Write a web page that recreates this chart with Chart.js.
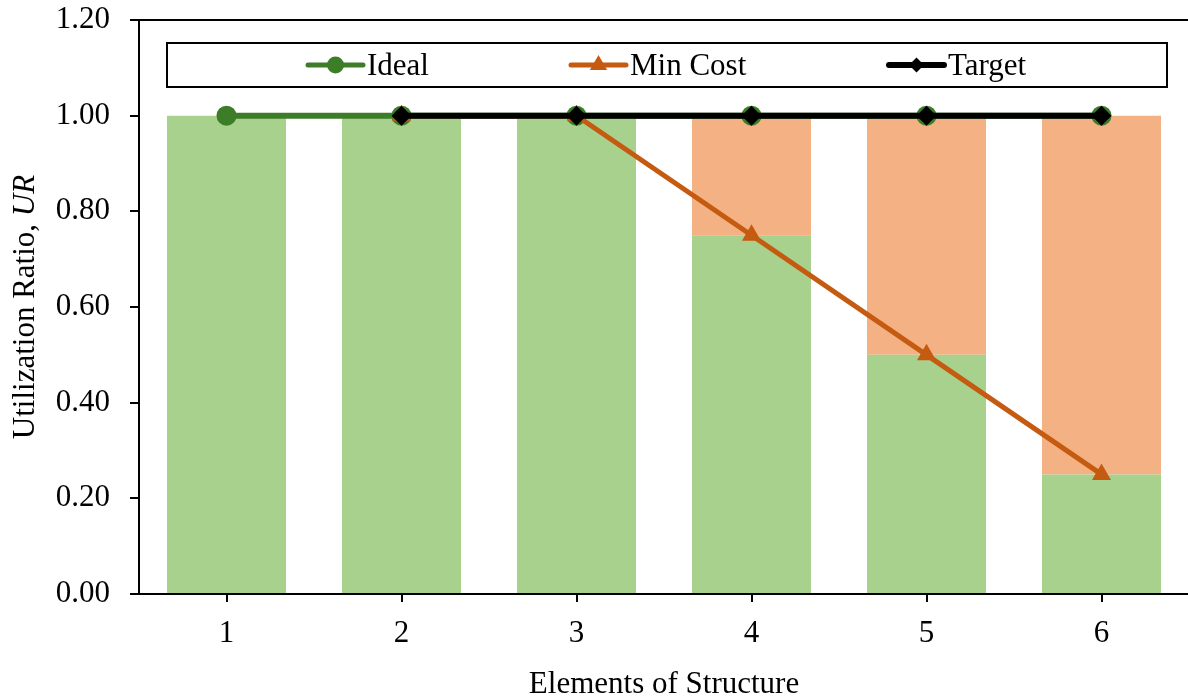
<!DOCTYPE html>
<html>
<head>
<meta charset="utf-8">
<script src="https://cdn.jsdelivr.net/npm/chart.js@4.4.1/dist/chart.umd.min.js"></script>
<style>
  html, body { margin: 0; padding: 0; background: #fff; overflow: hidden; }
  #wrap { width: 1200px; height: 697px; }
</style>
</head>
<body>
<div id="wrap"><canvas id="c" width="1200" height="697"></canvas></div>
<script>
// Elements along the x axis
const elements = ['1', '2', '3', '4', '5', '6'];
// Stacked columns: utilized share (green) and remaining capacity (orange)
const usedShare   = [1.00, 1.00, 1.00, 0.75, 0.50, 0.25];
const unusedShare = [0.00, 0.00, 0.00, 0.25, 0.50, 0.75];
// Line series
const idealUR   = [1.00, 1.00, 1.00, 1.00, 1.00, 1.00];
const minCostUR = [null, 1.00, 1.00, 0.75, 0.50, 0.25];
const targetUR  = [null, 1.00, 1.00, 1.00, 1.00, 1.00];
// Value axis
const yMin = 0, yMax = 1.2, yStep = 0.2;
const legendNames = ['Ideal', 'Min Cost', 'Target'];

const FONT = '"Liberation Serif", "Times New Roman", serif';
const GREEN = '#3D7D28', ORANGE = '#C55A11', BLACK = '#000000';

function marker(ctx, style, x, y, r, color) {
  ctx.save();
  ctx.fillStyle = color;
  ctx.beginPath();
  if (style === 'circle') {
    ctx.arc(x, y, r, 0, Math.PI * 2);
  } else if (style === 'triangle') {
    ctx.moveTo(x, y - r);
    ctx.lineTo(x + r * Math.sin(2 * Math.PI / 3), y - r * Math.cos(2 * Math.PI / 3));
    ctx.lineTo(x + r * Math.sin(4 * Math.PI / 3), y - r * Math.cos(4 * Math.PI / 3));
  } else {
    ctx.moveTo(x, y - r); ctx.lineTo(x + r, y); ctx.lineTo(x, y + r); ctx.lineTo(x - r, y);
  }
  ctx.closePath();
  ctx.fill();
  ctx.restore();
}

// Boxed legend inside the plot, plus the two axis titles
const decorations = {
  id: 'decorations',
  afterDraw(chart) {
    const ctx = chart.ctx;
    const area = chart.chartArea;
    ctx.save();
    // legend box
    ctx.fillStyle = '#fff';
    ctx.fillRect(167, 43, 1000, 44);
    ctx.strokeStyle = BLACK;
    ctx.lineWidth = 2;
    ctx.strokeRect(167, 43, 1000, 44);

    const items = [
      { name: legendNames[0], color: GREEN,  style: 'circle',   r: 8.5, x0: 308, w: 5 },
      { name: legendNames[1], color: ORANGE, style: 'triangle', r: 10,  x0: 571, w: 5 },
      { name: legendNames[2], color: BLACK,  style: 'diamond',  r: 7.5, x0: 889, w: 6 }
    ];
    const ly = 65;
    ctx.font = '31px ' + FONT;
    ctx.textBaseline = 'alphabetic';
    ctx.textAlign = 'left';
    items.forEach(it => {
      ctx.strokeStyle = it.color;
      ctx.lineWidth = it.w;
      ctx.lineCap = 'round';
      ctx.beginPath();
      ctx.moveTo(it.x0, ly);
      ctx.lineTo(it.x0 + 55, ly);
      ctx.stroke();
      marker(ctx, it.style, it.x0 + 27.5, ly, it.r, it.color);
      ctx.fillStyle = BLACK;
      ctx.fillText(it.name, it.x0 + 59, 75);
    });

    // x axis title
    ctx.textAlign = 'center';
    ctx.fillText('Elements of Structure', (area.left + area.right) / 2, 693);

    // y axis title with italic symbol
    const cy = (area.top + area.bottom) / 2;
    ctx.translate(34, cy);
    ctx.rotate(-Math.PI / 2);
    const partA = 'Utilization Ratio, ';
    const partB = 'UR';
    ctx.font = '31px ' + FONT;
    const wA = ctx.measureText(partA).width;
    ctx.font = 'italic 31px ' + FONT;
    const wB = ctx.measureText(partB).width;
    const start = -(wA + wB) / 2;
    ctx.textAlign = 'left';
    ctx.font = '31px ' + FONT;
    ctx.fillText(partA, start, 0);
    ctx.font = 'italic 31px ' + FONT;
    ctx.fillText(partB, start + wA, 0);
    ctx.restore();
  }
};

new Chart(document.getElementById('c'), {
  data: {
    labels: elements,
    datasets: [
      { type: 'bar', label: 'used', data: usedShare, backgroundColor: '#A9D18E',
        stack: 'bars', order: 10, barPercentage: 0.68, categoryPercentage: 1.0 },
      { type: 'bar', label: 'unused', data: unusedShare, backgroundColor: '#F4B183',
        stack: 'bars', order: 10, barPercentage: 0.68, categoryPercentage: 1.0 },
      { type: 'line', label: legendNames[0], data: idealUR, stack: 'ideal', order: 3,
        borderColor: GREEN, backgroundColor: GREEN, borderWidth: 6,
        pointStyle: 'circle', pointRadius: 10, pointBorderWidth: 0, pointBackgroundColor: GREEN },
      { type: 'line', label: legendNames[1], data: minCostUR, stack: 'min', order: 2,
        borderColor: ORANGE, backgroundColor: ORANGE, borderWidth: 5,
        pointStyle: 'triangle', pointRadius: 11, pointBorderWidth: 0, pointBackgroundColor: ORANGE },
      { type: 'line', label: legendNames[2], data: targetUR, stack: 'target', order: 1,
        borderColor: BLACK, backgroundColor: BLACK, borderWidth: 6,
        pointStyle: 'rectRot', pointRadius: 10, pointBorderWidth: 0, pointBackgroundColor: BLACK }
    ]
  },
  options: {
    responsive: false,
    animation: false,
    events: [],
    layout: { padding: { left: 0, right: 4, top: 20, bottom: 0 } },
    plugins: { legend: { display: false }, tooltip: { enabled: false }, title: { display: false } },
    scales: {
      x: {
        type: 'category',
        stacked: true,
        offset: true,
        grid: { offset: false, drawOnChartArea: false, drawTicks: true, tickLength: 8,
                color: BLACK, tickColor: BLACK, lineWidth: 2, tickWidth: 2 },
        border: { display: true, color: BLACK, width: 2 },
        ticks: { color: BLACK, font: { family: FONT, size: 31 }, padding: 13, maxRotation: 0 },
        afterFit(s) { s.height = 103; }
      },
      y: {
        stacked: true,
        min: yMin,
        max: yMax,
        ticks: {
          stepSize: yStep,
          color: BLACK,
          font: { family: FONT, size: 31 },
          padding: 20,
          callback: v => Number(v).toFixed(2)
        },
        grid: {
          drawTicks: true,
          tickLength: 9,
          lineWidth: 2,
          tickWidth: 2,
          tickColor: BLACK,
          color: c => (c.tick && Math.abs(c.tick.value - yMax) < 1e-6) ? BLACK : 'rgba(0,0,0,0)'
        },
        border: { display: true, color: BLACK, width: 2 },
        afterFit(s) { s.width = 139; s.paddingTop = 0; s.paddingBottom = 0; }
      }
    }
  },
  plugins: [decorations]
});
</script>
</body>
</html>
